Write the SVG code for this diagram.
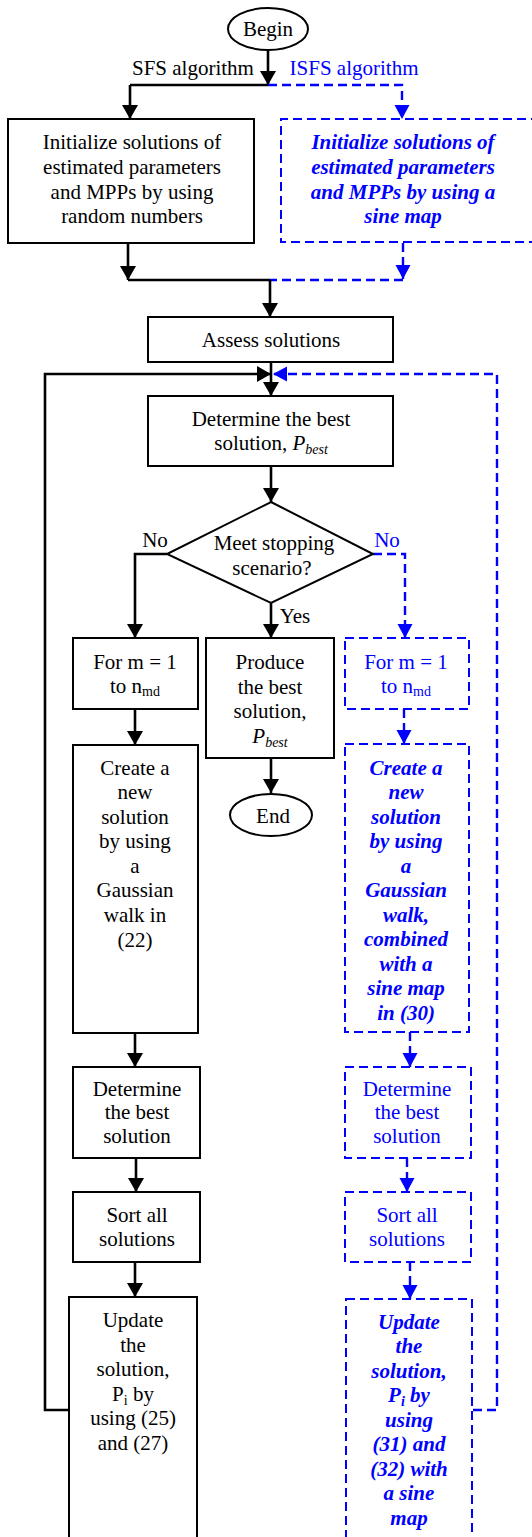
<svg xmlns="http://www.w3.org/2000/svg" width="532" height="1537" viewBox="0 0 532 1537">
<style>
text{font-family:"Liberation Serif","Times New Roman",serif;font-size:21px;fill:#000;text-anchor:middle}
text.b{fill:#0000ff}
text.bi{fill:#0000ff;font-weight:bold;font-style:italic}
.box{fill:#fff;stroke:#000;stroke-width:2}
.dbox{fill:#fff;stroke:#0000ff;stroke-width:2;stroke-dasharray:9 5}
.c{fill:none;stroke:#000;stroke-width:2.6}
.d{fill:none;stroke:#0000ff;stroke-width:2.4;stroke-dasharray:9 5}
.ca{fill:none;stroke:#000;stroke-width:2.6;marker-end:url(#ak)}
.da{fill:none;stroke:#0000ff;stroke-width:2.4;stroke-dasharray:9 5;marker-end:url(#ab)}
</style>
<defs>
<marker id="ak" markerUnits="userSpaceOnUse" markerWidth="16" markerHeight="16" refX="14" refY="8" orient="auto"><path d="M0,0 L14,8 L0,16 z" fill="#000"/></marker>
<marker id="ab" markerUnits="userSpaceOnUse" markerWidth="16" markerHeight="16" refX="14" refY="7.5" orient="auto"><path d="M0,0 L14,7.5 L0,15 z" fill="#0000ff"/></marker>
</defs>

<g id="connectors">
<path class="ca" d="M268,51 V85"/>
<path class="c" d="M268,85 H130"/>
<path class="ca" d="M130,85 V119"/>
<path class="da" d="M268,85 H402 V119"/>
<path class="ca" d="M128,243 V280"/>
<path class="c" d="M128,280 H270"/>
<path class="da" d="M403,243 V279"/>
<path class="d" d="M403,280 H270"/>
<path class="ca" d="M270,280 V317"/>
<path class="c" d="M271,362 V374"/>
<path class="ca" d="M271,374 V396"/>
<path class="ca" d="M69,1410 H45 V374 H271"/>
<path class="da" d="M473,1410 H497 V374 H273"/>
<path class="ca" d="M271,466 V502"/>
<path class="ca" d="M167,554 H135 V638"/>
<path class="da" d="M373,554 H405 V638"/>
<path class="ca" d="M271,603 V638"/>
<path class="ca" d="M135,709 V745"/>
<path class="da" d="M404,709 V744"/>
<path class="ca" d="M271,758 V793"/>
<path class="ca" d="M135,1033 V1067"/>
<path class="da" d="M410,1032 V1067"/>
<path class="ca" d="M136,1158 V1192"/>
<path class="da" d="M407,1158 V1192"/>
<path class="ca" d="M135,1262 V1297"/>
<path class="da" d="M410,1262 V1299"/>
<text x="193" y="75">SFS algorithm</text>
<text class="b" x="354" y="75">ISFS algorithm</text>
<text x="155" y="547">No</text>
<text class="b" x="387" y="547">No</text>
<text x="295" y="623">Yes</text>
</g>

<g id="begin">
<ellipse cx="268" cy="29" rx="40" ry="21" fill="#fff" stroke="#000" stroke-width="2"/>
<text x="268" y="36">Begin</text>
</g>

<g id="init-sfs">
<rect class="box" x="8" y="119" width="246" height="124"/>
<text x="132" y="149">Initialize solutions of</text>
<text x="132" y="174">estimated parameters</text>
<text x="132" y="199">and MPPs by using</text>
<text x="132" y="223">random numbers</text>
</g>

<g id="init-isfs">
<path class="dbox" d="M540,119 H281 V242 H540"/>
<text class="bi" x="403" y="149">Initialize solutions of</text>
<text class="bi" x="403" y="174">estimated parameters</text>
<text class="bi" x="403" y="199">and MPPs by using a</text>
<text class="bi" x="403" y="223">sine map</text>
</g>

<g id="assess">
<rect class="box" x="148" y="317" width="245" height="45"/>
<text x="271" y="347">Assess solutions</text>
</g>

<g id="determine-best">
<rect class="box" x="148" y="396" width="245" height="70"/>
<text x="271" y="426">Determine the best</text>
<text x="271" y="450">solution, <tspan font-style="italic">P</tspan><tspan font-style="italic" font-size="14" dy="4">best</tspan></text>
</g>

<g id="stop">
<polygon points="271,502 373,554 271,603 167,554" fill="#fff" stroke="#000" stroke-width="2"/>
<text x="274" y="550">Meet stopping</text>
<text x="272" y="575">scenario?</text>
</g>

<g id="for-sfs">
<rect class="box" x="73" y="638" width="125" height="71"/>
<text x="135" y="669">For m = 1</text>
<text x="135" y="693">to n<tspan font-size="14" dy="3">md</tspan></text>
</g>

<g id="produce">
<rect class="box" x="206" y="638" width="128" height="120"/>
<text x="270" y="669">Produce</text>
<text x="270" y="694">the best</text>
<text x="270" y="718">solution,</text>
<text x="270" y="743"><tspan font-style="italic">P</tspan><tspan font-style="italic" font-size="14" dy="4">best</tspan></text>
</g>

<g id="end">
<ellipse cx="271" cy="815" rx="41" ry="21" fill="#fff" stroke="#000" stroke-width="2"/>
<text x="273" y="823">End</text>
</g>

<g id="for-isfs">
<rect class="dbox" x="345" y="638" width="124" height="71"/>
<text class="b" x="406" y="669">For m = 1</text>
<text class="b" x="406" y="693">to n<tspan font-size="14" dy="3">md</tspan></text>
</g>

<g id="create-sfs">
<rect class="box" x="73" y="745" width="125" height="288"/>
<text x="135" y="775">Create a</text>
<text x="135" y="799">new</text>
<text x="135" y="824">solution</text>
<text x="135" y="848">by using</text>
<text x="135" y="873">a</text>
<text x="135" y="897">Gaussian</text>
<text x="135" y="922">walk in</text>
<text x="135" y="947">(22)</text>
</g>

<g id="create-isfs">
<rect class="dbox" x="345" y="744" width="124" height="288"/>
<text class="bi" x="406" y="775">Create a</text>
<text class="bi" x="406" y="799">new</text>
<text class="bi" x="406" y="824">solution</text>
<text class="bi" x="406" y="848">by using</text>
<text class="bi" x="406" y="873">a</text>
<text class="bi" x="406" y="897">Gaussian</text>
<text class="bi" x="406" y="922">walk,</text>
<text class="bi" x="406" y="946">combined</text>
<text class="bi" x="406" y="971">with a</text>
<text class="bi" x="406" y="995">sine map</text>
<text class="bi" x="406" y="1020">in (30)</text>
</g>

<g id="det-sfs">
<rect class="box" x="73" y="1067" width="127" height="91"/>
<text x="137" y="1096">Determine</text>
<text x="137" y="1119">the best</text>
<text x="137" y="1143">solution</text>
</g>

<g id="det-isfs">
<rect class="dbox" x="345" y="1067" width="126" height="91"/>
<text class="b" x="407" y="1096">Determine</text>
<text class="b" x="407" y="1119">the best</text>
<text class="b" x="407" y="1143">solution</text>
</g>

<g id="sort-sfs">
<rect class="box" x="73" y="1192" width="127" height="70"/>
<text x="137" y="1222">Sort all</text>
<text x="137" y="1246">solutions</text>
</g>

<g id="sort-isfs">
<rect class="dbox" x="345" y="1192" width="126" height="70"/>
<text class="b" x="407" y="1222">Sort all</text>
<text class="b" x="407" y="1246">solutions</text>
</g>

<g id="update-sfs">
<rect class="box" x="69" y="1297" width="128" height="260"/>
<text x="133" y="1327">Update</text>
<text x="133" y="1352">the</text>
<text x="133" y="1376">solution,</text>
<text x="133" y="1401">P<tspan font-size="14" dy="4">i</tspan><tspan dy="-4"> by</tspan></text>
<text x="133" y="1425">using (25)</text>
<text x="133" y="1450">and (27)</text>
</g>

<g id="update-isfs">
<rect class="dbox" x="346" y="1299" width="126" height="260"/>
<text class="bi" x="409" y="1329">Update</text>
<text class="bi" x="409" y="1353">the</text>
<text class="bi" x="409" y="1378">solution,</text>
<text class="bi" x="409" y="1402">P<tspan font-size="14" dy="4">i</tspan><tspan dy="-4"> by</tspan></text>
<text class="bi" x="409" y="1427">using</text>
<text class="bi" x="409" y="1451">(31) and</text>
<text class="bi" x="409" y="1476">(32) with</text>
<text class="bi" x="409" y="1500">a sine</text>
<text class="bi" x="409" y="1525">map</text>
</g>
</svg>
